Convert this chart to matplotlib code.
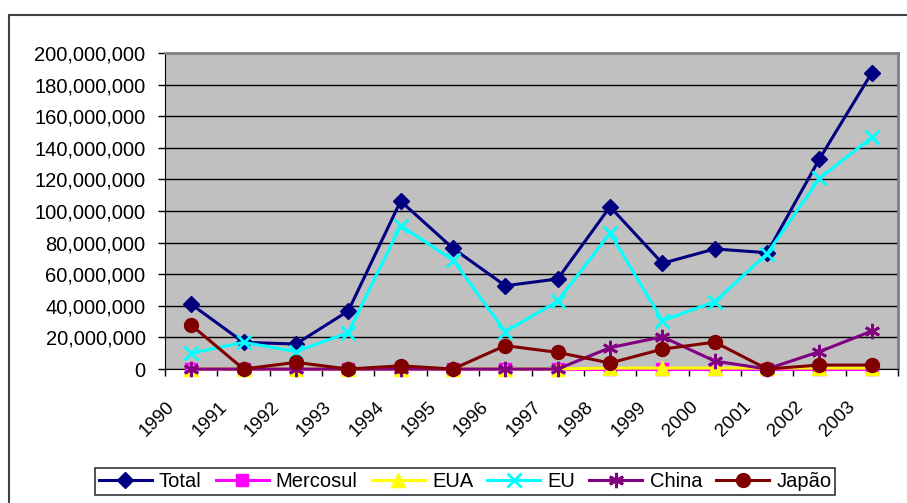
import matplotlib
matplotlib.use('Agg')
import matplotlib.pyplot as plt
import matplotlib.patches as patches
from matplotlib.ticker import FuncFormatter, FixedLocator
from matplotlib.transforms import ScaledTranslation
import numpy as np

plt.rcParams['font.family'] = ['Liberation Sans', 'DejaVu Sans']

# data (in units)
years = ['1990', '1991', '1992', '1993', '1994', '1995', '1996',
         '1997', '1998', '1999', '2000', '2001', '2002', '2003']
total = [41.0, 16.9, 15.8, 36.7, 106.3, 76.4, 52.7,
         57.0, 102.7, 66.9, 76.0, 73.6, 133.0, 187.5]
mercosul = [0.1, 0.1, 0.1, 0.1, 0.1, 0.1, 0.1,
            0.1, 0.1, 0.1, 0.1, 0.1, 0.1, 0.1]
eua = [0.0, 0.0, 0.0, 0.0, 0.0, 0.0, 0.0,
       0.0, 0.6, 0.6, 0.6, 0.6, 0.6, 0.6]
eu = [9.9, 16.9, 11.0, 23.0, 90.7, 69.0, 23.6,
      43.0, 86.0, 30.6, 42.6, 73.0, 120.7, 146.6]
china = [0.0, 0.0, 0.0, 0.0, 0.0, 0.0, 0.0,
         0.0, 13.5, 20.4, 5.0, 0.0, 11.0, 24.0]
japao = [27.8, 0.0, 4.2, 0.0, 2.0, 0.0, 14.8,
         10.5, 3.8, 12.6, 17.0, 0.0, 2.5, 2.5]

series = [
    ('Total', total, '#000080', 'D', 8),
    ('Mercosul', mercosul, '#FF00FF', 's', 9),
    ('EUA', eua, '#FFFF00', '^', 10),
    ('EU', eu, '#00FFFF', 'x', 10),
    ('China', china, '#800080', (6, 2, 0), 11),
    ('Japão', japao, '#800000', 'o', 10),
]

fig = plt.figure(figsize=(9.07, 5.03), dpi=100)
ax = fig.add_axes([0.1819, 0.2664, 0.9901 - 0.1819, 0.8946 - 0.2664])
ax.set_facecolor('#C0C0C0')

# outer chart border (only left/top are visible in the crop)
fig.patches.append(patches.Rectangle((9 / 907, -0.2), 1.2, 1.2 - 15 / 503,
                                     transform=fig.transFigure, fill=False,
                                     edgecolor='#404040', linewidth=1.5))

x = np.arange(len(years))
for name, vals, col, mk, ms in series:
    ax.plot(x, np.array(vals) * 1e6, color=col, linewidth=2.2, marker=mk,
            markersize=ms, markerfacecolor=col, markeredgecolor=col,
            markeredgewidth=2 if mk == 'x' or isinstance(mk, tuple) else 1,
            label=name, clip_on=False, zorder=3)

ax.set_xlim(-0.5, len(years) - 0.5)
ax.set_ylim(0, 200e6)
ax.set_yticks(np.arange(0, 200e6 + 1, 20e6))
ax.yaxis.set_major_formatter(FuncFormatter(lambda v, p: f'{int(round(v)):,}'))
ax.grid(axis='y', color='black', linewidth=1, zorder=1)
ax.set_axisbelow(True)

ax.set_xticks(x)
ax.set_xticklabels(years, rotation=45, ha='right', va='top', fontsize=13.5)
ax.xaxis.set_minor_locator(FixedLocator(np.arange(-0.5, len(years), 1.0)))
ax.tick_params(axis='x', which='major', length=0, pad=21)
ax.tick_params(axis='x', which='minor', length=5, width=1, direction='out')
ax.tick_params(axis='y', length=5, width=1, direction='out', labelsize=14.5, pad=9)
for lab in ax.get_xticklabels():
    lab.set_transform(lab.get_transform() + ScaledTranslation(-0.13, 0, fig.dpi_scale_trans))

for s in ('top', 'right'):
    ax.spines[s].set_color('#808080')
    ax.spines[s].set_linewidth(2)
ax.spines['left'].set_color('black')
ax.spines['bottom'].set_color('black')

leg = fig.legend(loc='center', bbox_to_anchor=(0.5127, 0.0427), ncol=6,
                 fontsize=14.5, frameon=True, fancybox=False, edgecolor='black',
                 handlelength=2.64, handletextpad=0.35, columnspacing=0.7,
                 borderpad=0.2, borderaxespad=0)
leg.get_frame().set_linewidth(1.2)

fig.savefig('out.png', dpi=100)
